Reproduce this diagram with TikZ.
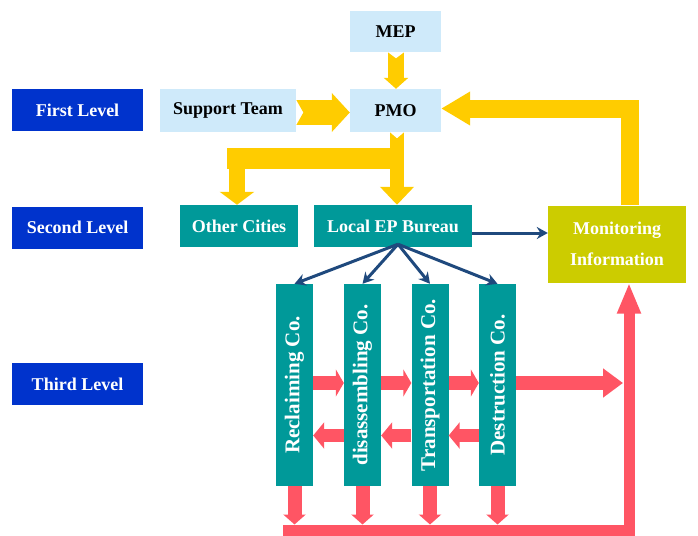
\documentclass[tikz,border=0pt]{standalone}
\usepackage{fontspec}
\setmainfont{Liberation Serif}
\usetikzlibrary{arrows.meta}
\definecolor{yel}{HTML}{FFCC00}
\definecolor{lblue}{HTML}{CFEAFA}
\definecolor{teal}{HTML}{009999}
\definecolor{olive}{HTML}{CCCC00}
\definecolor{lvl}{HTML}{0033CC}
\definecolor{redc}{HTML}{FF5564}
\definecolor{darr}{HTML}{1F497D}
\begin{document}
\begin{tikzpicture}[x=1pt,y=-1pt,
  bx/.style 2 args={rectangle, inner sep=0pt, minimum width=#1, minimum height=#2,
     font=\fontsize{18}{22}\selectfont\bfseries, align=center},
  lvlbox/.style={bx={131pt}{42pt}, fill=lvl, text=white},
  lbbox/.style 2 args={bx={#1}{#2}, fill=lblue, text=black},
  tlbox/.style 2 args={bx={#1}{#2}, fill=teal, text=white},
  colbox/.style={bx={37pt}{202pt}, fill=teal, text=white, font=\fontsize{21}{24}\selectfont\bfseries},
  yarr/.style={draw=yel, line width=#1, line cap=butt, line join=miter},
  rarr/.style={draw=redc, line width=#1, line cap=butt, line join=miter},
  barr/.style={draw=darr, line width=3pt, -{Stealth[length=11pt,width=12pt]}},
  notchfill/.style={fill=white}
]
\useasboundingbox (0,0) rectangle (698,535);
% level labels
\node[lvlbox] (L1) at (77.5,110) {First Level};
\node[lvlbox] (L2) at (77.5,227.5) {Second Level};
\node[lvlbox] (L3) at (77.5,384) {Third Level};
% first level
\node[lbbox={91pt}{41pt}] (MEP) at (395.5,31.5) {MEP};
\node[lbbox={136pt}{43pt}] (ST) at (228,110.5) {Support Team};
\node[lbbox={91pt}{43pt}] (PMO) at (395.5,110.5) {PMO};
% second level
\node[tlbox={118pt}{42pt}] (OC) at (239,226) {Other Cities};
\node[tlbox={158pt}{42pt}] (LEP) at (393,226) {Local EP Bureau};
\node[bx={138pt}{77pt}, fill=olive, text=white, font=\fontsize{18}{31}\selectfont\bfseries] (MON) at (617,244) {Monitoring\\Information};
% third level
\node[colbox] (C1) at (294.5,385) {\rotatebox{90}{Reclaiming Co.}};
\node[colbox] (C2) at (362.5,385) {\rotatebox{90}{disassembling Co.}};
\node[colbox] (C3) at (430,385) {\rotatebox{90}{Transportation Co.}};
\node[colbox] (C4) at (497.5,385) {\rotatebox{90}{Destruction Co.}};
% yellow arrows
\coordinate (md) at ([xshift=0.5pt]MEP.south);
\draw[yarr=16pt, -{Triangle[length=11pt,width=24pt]}] (md) -- (md |- PMO.north);
\fill[notchfill] (md) ++(-8,0) -- ++(8,6) -- ++(8,-6) -- cycle;
\coordinate (se) at ([yshift=-2pt]ST.east);
\draw[yarr=25pt, -{Triangle[length=18pt,width=38pt]}] (se) -- (se -| PMO.west);
\fill[notchfill] (se) ++(0,-12.5) -- ++(7,12.5) -- ++(-7,12.5) -- cycle;
\coordinate (pd) at ([xshift=1.5pt]PMO.south);
\draw[yarr=14pt, -{Triangle[length=18pt,width=33pt]}] (pd) -- (pd |- LEP.north);
\fill[notchfill] (pd) ++(-7,0) -- ++(7,6) -- ++(7,-6) -- cycle;
\fill[yel] (227,148) rectangle (404,169);
\coordinate (bar) at (237,169);
\draw[yarr=16pt, -{Triangle[length=13pt,width=34pt]}] (bar) -- (bar |- OC.north);
\coordinate (mk) at (630,108.5);
\draw[yarr=18pt, -{Triangle[length=29pt,width=32pt]}] (mk |- MON.north) -- (mk) -- (mk -| PMO.east);
% blue arrows
\coordinate (bl) at ([yshift=-7pt]LEP.east);
\draw[barr] (bl) -- (bl -| MON.west);
\coordinate (lb) at ([xshift=5pt,yshift=3pt]LEP.south);
\draw[barr] (lb) -- (C1.north);
\draw[barr] (lb) -- (C2.north);
\draw[barr] (lb) -- (C3.north);
\draw[barr] (lb) -- (C4.north);
% red arrows
\coordinate (rb) at (283,530);
\coordinate (rc) at (629,530);
\draw[rarr=11pt, -{Triangle[length=31pt,width=22pt]}] (rb) -- (rc) -- (rc |- MON.south);
\coordinate (rr) at (0,383);
\coordinate (rl) at (0,435.5);
\draw[rarr=13.5pt, -{Triangle[length=8pt,width=27pt]}] (C1.east |- rr) -- (C2.west |- rr);
\draw[rarr=13.5pt, -{Triangle[length=8pt,width=27pt]}] (C2.east |- rr) -- (C3.west |- rr);
\draw[rarr=13.5pt, -{Triangle[length=8pt,width=27pt]}] (C3.east |- rr) -- (C4.west |- rr);
\draw[rarr=13.5pt, -{Triangle[length=20pt,width=28pt]}] (C4.east |- rr) -- ([xshift=-6pt]rc |- rr);
\draw[rarr=13.5pt, -{Triangle[length=11pt,width=26pt]}] (C2.west |- rl) -- (C1.east |- rl);
\draw[rarr=13.5pt, -{Triangle[length=11pt,width=26pt]}] (C3.west |- rl) -- (C2.east |- rl);
\draw[rarr=13.5pt, -{Triangle[length=11pt,width=26pt]}] (C4.west |- rl) -- (C3.east |- rl);
\draw[rarr=14pt, -{Triangle[length=10pt,width=22pt]}] (C1.south) -- (C1.south |- 0,524.5);
\draw[rarr=14pt, -{Triangle[length=10pt,width=22pt]}] (C2.south) -- (C2.south |- 0,524.5);
\draw[rarr=14pt, -{Triangle[length=10pt,width=22pt]}] (C3.south) -- (C3.south |- 0,524.5);
\draw[rarr=14pt, -{Triangle[length=10pt,width=22pt]}] (C4.south) -- (C4.south |- 0,524.5);
\end{tikzpicture}
\end{document}
